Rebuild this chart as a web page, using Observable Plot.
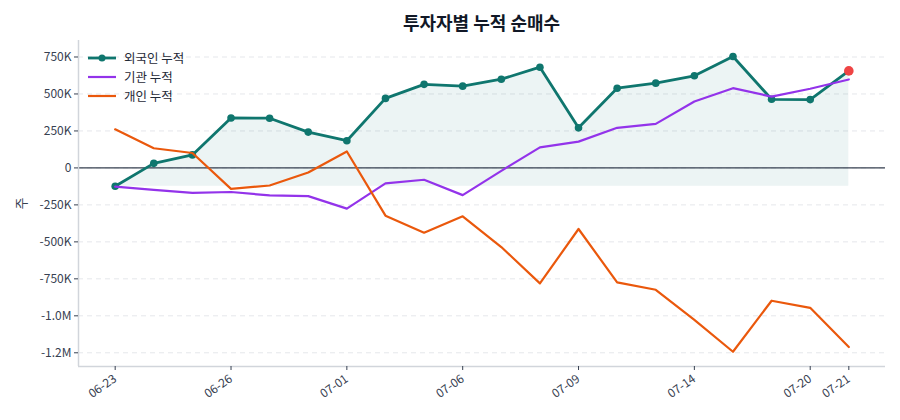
<!DOCTYPE html>
<html>
<head>
<meta charset="utf-8">
<script src="https://cdn.jsdelivr.net/npm/d3@7"></script>
<script src="https://cdn.jsdelivr.net/npm/@observablehq/plot@0.6"></script>
<style>
  body { margin: 0; background: white; font-family: 'Noto Sans CJK KR', 'Noto Sans', sans-serif; }
  #wrap { position: relative; width: 900px; height: 420px; padding-top: 6px; box-sizing: border-box; }
  #title { box-sizing: border-box; height: 32px; line-height: 32px; padding-left: 78px; padding-right: 15px;
           text-align: center; font-size: 18px; font-weight: bold; color: #111827; }
  #legend { position: absolute; left: 88px; top: 48px; font-size: 12.5px; color: #1f2937; }
  .row { height: 19px; display: flex; align-items: center; }
  .row svg { margin-right: 8px; }
</style>
</head>
<body>
<div id="wrap">
  <div id="title">투자자별 누적 순매수</div>
  <div id="chart"></div>
  <div id="legend"></div>
</div>
<script>
const dates = ["06-23","06-24","06-25","06-26","06-27","06-30","07-01","07-02","07-03","07-06",
               "07-07","07-08","07-09","07-10","07-11","07-14","07-15","07-16","07-20","07-21"];
const foreign = [-124000, 31000, 88000, 338000, 336000, 242000, 184000, 470000, 565000, 553000,
                 600000, 681000, 271000, 539000, 573000, 623000, 753000, 464000, 462000, 656000];
const institution = [-126000, -149000, -169000, -163000, -186000, -191000, -275000, -105000, -80000, -184000,
                     -20000, 139000, 178000, 271000, 298000, 449000, 539000, 482000, 535000, 598000];
const individual = [261000, 133000, 101000, -142000, -119000, -31000, 111000, -323000, -438000, -327000,
                    -535000, -781000, -413000, -774000, -824000, -1027000, -1243000, -898000, -946000, -1211000];
const seriesNames = ["외국인 누적", "기관 누적", "개인 누적"];
const colors = ["#0f766e", "#9333ea", "#ea580c"];
const tickIdx = [0, 3, 6, 9, 12, 15, 18, 19];
const yTicks = [-1250000, -1000000, -750000, -500000, -250000, 0, 250000, 500000, 750000];
const yTickLabels = ["-1.2M", "-1.0M", "-750K", "-500K", "-250K", "0", "250K", "500K", "750K"];

const table = dates.map((d, i) => ({i, date: d, foreign: foreign[i], institution: institution[i], individual: individual[i]}));
const minF = d3.min(foreign);
const xDomain = [-0.95, dates.length - 1 + 0.95];
const yDomain = [-1342700, 861500];

const chart = Plot.plot({
  width: 900, height: 382,
  marginTop: 2, marginBottom: 54, marginLeft: 78, marginRight: 15,
  style: {fontFamily: "'Noto Sans CJK KR', 'Noto Sans', sans-serif", fontSize: "12px", color: "#374151", background: "white"},
  x: {type: "linear", domain: xDomain},
  y: {domain: yDomain},
  marks: [
    Plot.gridY(yTicks, {stroke: "#e5e7eb", strokeOpacity: 1, strokeDasharray: "5,4", strokeWidth: 1}),
    Plot.areaY(table, {x: "i", y1: minF, y2: "foreign", fill: colors[0], fillOpacity: 0.08}),
    Plot.ruleY([0], {stroke: "#374151", strokeWidth: 1.2}),
    Plot.line(table, {x: "i", y: "foreign", stroke: colors[0], strokeWidth: 2.8}),
    Plot.dot(table, {x: "i", y: "foreign", r: 3.8, fill: colors[0]}),
    Plot.line(table, {x: "i", y: "institution", stroke: colors[1], strokeWidth: 2.2}),
    Plot.line(table, {x: "i", y: "individual", stroke: colors[2], strokeWidth: 2.2}),
    Plot.dot(table.slice(-1), {x: "i", y: "foreign", r: 4.8, fill: "#ef4444"}),
    Plot.ruleX([xDomain[0]], {stroke: "#d1d5db", strokeWidth: 1.5}),
    Plot.ruleY([yDomain[0]], {stroke: "#d1d5db", strokeWidth: 1.5}),
    Plot.axisX(tickIdx, {tickFormat: i => dates[i], tickRotate: -35, tickSize: 4, tickPadding: 7, stroke: "#374151", label: null}),
    Plot.axisY(yTicks, {tickFormat: v => yTickLabels[yTicks.indexOf(v)], tickSize: 4, tickPadding: 3, stroke: "#374151", label: null}),
    Plot.axisY({label: "주", ticks: [], labelAnchor: "center", labelOffset: 62, labelArrow: "none", fontSize: 13})
  ]
});
document.getElementById("chart").appendChild(chart);

const legend = document.getElementById("legend");
seriesNames.forEach((name, k) => {
  const row = document.createElement("div");
  row.className = "row";
  const dot = k === 0 ? `<circle cx="14" cy="5" r="3.5" fill="${colors[k]}"/>` : "";
  row.innerHTML = `<svg width="28" height="10"><line x1="0" x2="28" y1="5" y2="5" stroke="${colors[k]}" stroke-width="${k === 0 ? 2.8 : 2.2}"/>${dot}</svg><span>${name}</span>`;
  legend.appendChild(row);
});
</script>
</body>
</html>
